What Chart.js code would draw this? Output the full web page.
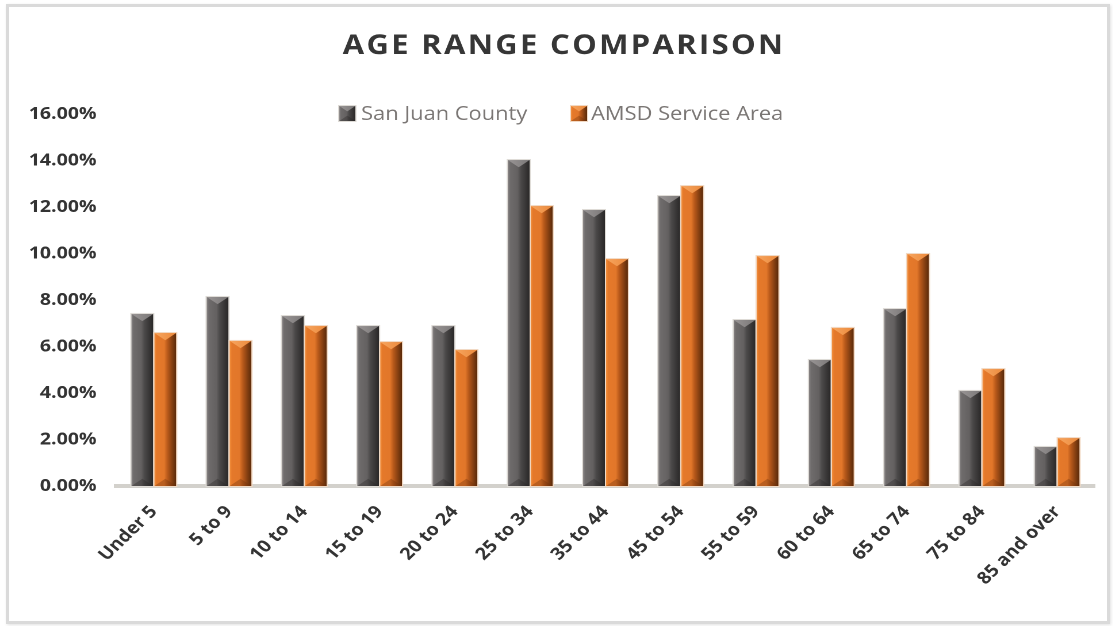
<!DOCTYPE html>
<html>
<head>
<meta charset="utf-8">
<script src="https://cdn.jsdelivr.net/npm/chart.js@4/dist/chart.umd.min.js"></script>
<style>
  html, body { margin: 0; padding: 0; background: #ffffff; }
  body { width: 1113px; height: 626px; position: relative; overflow: hidden; }
  #stage {
    position: absolute; left: 0; top: 0;
    width: 968px; height: 626px;
    transform: scaleX(1.15); transform-origin: 0 0;
  }
  #frame {
    position: absolute; left: 6px; top: 4px; width: 1098px; height: 614px;
    border: 3px solid #dadada; box-shadow: 1px 1px 3px rgba(0,0,0,0.12);
    pointer-events: none;
  }
</style>
</head>
<body>
<div id="stage"><canvas id="chart"></canvas></div>
<div id="frame"></div>
<script>
// Share of population by age group (percent)
const categories = ['Under 5', '5 to 9', '10 to 14', '15 to 19', '20 to 24', '25 to 34', '35 to 44',
                    '45 to 54', '55 to 59', '60 to 64', '65 to 74', '75 to 84', '85 and over'];
const sanJuanCounty = [7.40, 8.13, 7.31, 6.88, 6.88, 14.02, 11.87, 12.47, 7.14, 5.42, 7.61, 4.09, 1.68];
const amsdServiceArea = [6.58, 6.24, 6.88, 6.19, 5.85, 12.04, 9.76, 12.90, 9.89, 6.80, 9.98, 5.03, 2.06];
const seriesNames = ['San Juan County', 'AMSD Service Area'];
const yTickValues = [0, 2, 4, 6, 8, 10, 12, 14, 16];
const chartTitle = 'AGE RANGE COMPARISON';

const FONT = '"Open Sans", "DejaVu Sans", sans-serif';

// Beveled bar shading per series
const palettes = [
  { stops: [[0, '#8a8686'], [0.1, '#6f6c6c'], [0.45, '#646161'], [0.6, '#4b4949'], [0.85, '#363434'], [1, '#2a2828']],
    top: ['#9a9696', '#7b7878'], bottom: 'rgba(40,38,38,0.35)', edge: '#dedbd6', base: '#5e5b5b' },
  { stops: [[0, '#f3913f'], [0.1, '#e5792a'], [0.45, '#e2772a'], [0.6, '#b95a1b'], [0.85, '#7c3b10'], [1, '#5a2a0a']],
    top: ['#f7a660', '#ec8a3c'], bottom: 'rgba(110,50,12,0.35)', edge: '#f1d9c4', base: '#e0772a' }
];

function drawBevelBox(ctx, left, top, w, h, pal) {
  const right = left + w, bottom = top + h, cx = left + w / 2;
  const d = Math.min(w * 0.38, h / 2);
  const g = ctx.createLinearGradient(left, 0, right, 0);
  pal.stops.forEach(s => g.addColorStop(s[0], s[1]));
  ctx.fillStyle = g;
  ctx.fillRect(left, top, w, h);
  // top face
  const tg = ctx.createLinearGradient(left, 0, right, 0);
  tg.addColorStop(0, pal.top[0]); tg.addColorStop(1, pal.top[1]);
  ctx.beginPath();
  ctx.moveTo(left, top); ctx.lineTo(right, top); ctx.lineTo(cx, top + d); ctx.closePath();
  ctx.fillStyle = tg; ctx.fill();
  // bottom face
  ctx.beginPath();
  ctx.moveTo(left, bottom); ctx.lineTo(right, bottom); ctx.lineTo(cx, bottom - d); ctx.closePath();
  ctx.fillStyle = pal.bottom; ctx.fill();
  // light outline
  ctx.strokeStyle = pal.edge; ctx.lineWidth = 1;
  ctx.strokeRect(left - 0.5, top - 0.5, w + 1, h + 1);
}

const bevelBars = {
  id: 'bevelBars',
  afterDatasetsDraw(chart) {
    const ctx = chart.ctx;
    ctx.save();
    chart.data.datasets.forEach((ds, i) => {
      const meta = chart.getDatasetMeta(i);
      if (meta.hidden) return;
      meta.data.forEach(el => {
        const p = el.getProps(['x', 'y', 'base', 'width'], true);
        const top = Math.min(p.y, p.base), h = Math.abs(p.base - p.y);
        drawBevelBox(ctx, p.x - p.width / 2, top, p.width, h, palettes[i]);
      });
    });
    ctx.restore();
  }
};

const titleAndLegend = {
  id: 'titleAndLegend',
  afterDraw(chart) {
    const ctx = chart.ctx;
    ctx.save();
    // spaced-out title
    ctx.font = 'bold 27px ' + FONT;
    ctx.fillStyle = '#363636';
    ctx.textBaseline = 'alphabetic';
    ctx.textAlign = 'left';
    const natural = ctx.measureText(chartTitle).width;
    const target = 383;
    const n = chartTitle.length;
    const ls = Math.max(0, (target - natural) / (n - 1));
    ctx.letterSpacing = ls + 'px';
    ctx.fillText(chartTitle, 489.5 - target / 2, 54);
    ctx.letterSpacing = '0px';

    // legend overlapping the top of the plot
    const items = [{ x: 295, tx: 314 }, { x: 496.5, tx: 514 }];
    ctx.font = '19px ' + FONT;
    chart.data.datasets.forEach((ds, i) => {
      drawBevelBox(ctx, items[i].x, 106, 14, 15, palettes[i]);
      ctx.fillStyle = '#7a7674';
      ctx.fillText(ds.label, items[i].tx, 120);
    });
    ctx.restore();
  }
};

new Chart(document.getElementById('chart'), {
  type: 'bar',
  data: {
    labels: categories,
    datasets: [
      { label: seriesNames[0], data: sanJuanCounty, backgroundColor: palettes[0].base,
        categoryPercentage: 0.61, barPercentage: 0.95 },
      { label: seriesNames[1], data: amsdServiceArea, backgroundColor: palettes[1].base,
        categoryPercentage: 0.61, barPercentage: 0.95 }
    ]
  },
  options: {
    responsive: true,
    maintainAspectRatio: false,
    devicePixelRatio: 2,
    animation: false,
    layout: { padding: { top: 114, right: 16, bottom: 0, left: 0 } },
    plugins: { legend: { display: false }, title: { display: false }, tooltip: { enabled: false } },
    scales: {
      x: {
        grid: { display: false, drawTicks: false },
        border: { display: true, color: '#d3d1cc', width: 4 },
        ticks: {
          color: '#333333', font: { family: FONT, size: 17, weight: 'bold' },
          minRotation: 48, maxRotation: 48, padding: 16, autoSkip: false
        },
        afterFit(scale) { scale.height = 140; }
      },
      y: {
        min: 0, max: 16,
        grid: { display: false, drawTicks: false },
        border: { display: false },
        afterBuildTicks(scale) { scale.ticks = yTickValues.map(v => ({ value: v })); },
        ticks: {
          color: '#333333', font: { family: FONT, size: 17, weight: 'bold' }, padding: 17,
          callback: v => v.toFixed(2) + '%'
        },
        afterFit(scale) { scale.width = 101; }
      }
    }
  },
  plugins: [bevelBars, titleAndLegend]
});
</script>
</body>
</html>
